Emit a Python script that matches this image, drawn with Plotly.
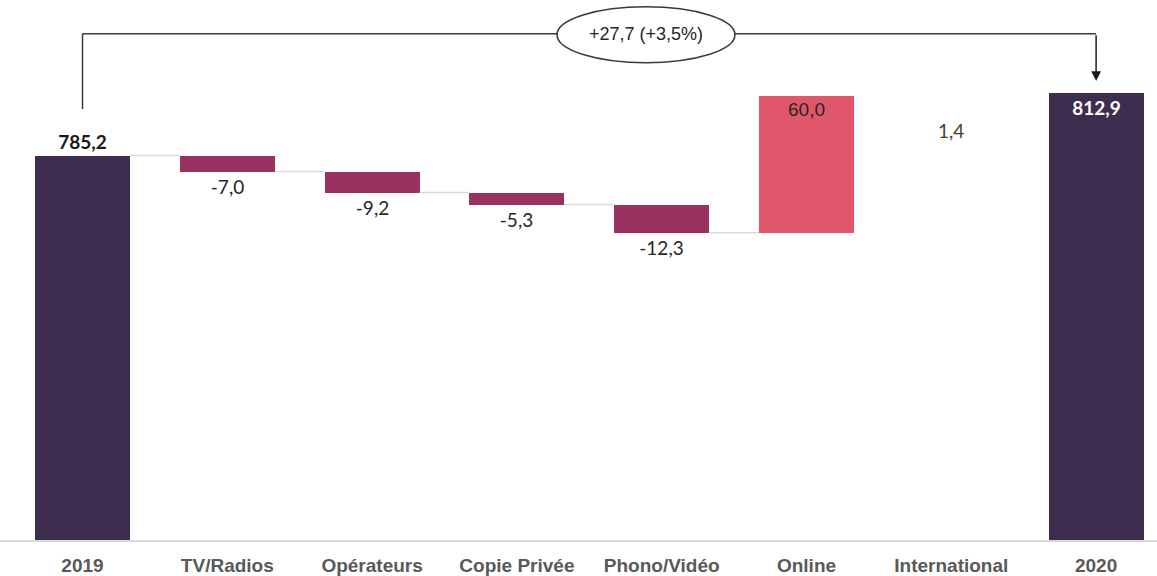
import plotly.graph_objects as go

categories = ["2019", "TV/Radios", "Opérateurs", "Copie Privée", "Phono/Vidéo",
              "Online", "International", "2020"]
start_value = 785.2
changes = [-7.0, -9.2, -5.3, -12.3, 60.0, 1.4]
end_value = 812.9
value_labels = ["785,2", "-7,0", "-9,2", "-5,3", "-12,3", "60,0", "1,4", "812,9"]
bracket_label = "+27,7 (+3,5%)"

TOTAL = "#3e2d4f"
DOWN = "#983261"
UP = "#e0566b"

# bases / heights for a floating-bar waterfall
bases = [0]
heights = [start_value]
level = start_value
levels = [start_value]
for c in changes:
    bases.append(level)
    heights.append(c)
    level += c
    levels.append(level)
bases.append(0)
heights.append(end_value)

colors = [TOTAL] + [DOWN if c < 0 else UP for c in changes] + [TOTAL]
colors[6] = "rgba(0,0,0,0)"  # International: no visible bar

xs = list(range(len(categories)))
bar_w = 0.656

positions = ["outside", "outside", "outside", "outside", "outside", "inside", "none", "inside"]
txt = ["<b>%s</b>" % value_labels[0]] + value_labels[1:6] + [""] + ["<b>%s</b>" % value_labels[7]]
txt_colors = ["#1a1a1a", "#262626", "#262626", "#262626", "#262626", "#262626", "#404040", "#ffffff"]
txt_fams = ["Lato", "Lato", "Lato", "Lato", "Lato", "Liberation Sans", "Lato", "Lato"]

fig = go.Figure()

# connectors between consecutive bars up to Online
for i in range(5):
    fig.add_trace(go.Scatter(
        x=[xs[i] + bar_w / 2, xs[i + 1] - bar_w / 2],
        y=[levels[i], levels[i]],
        mode="lines",
        line=dict(color="#d9d9d9", width=1.5),
        hoverinfo="skip",
        showlegend=False,
    ))

fig.add_trace(go.Bar(
    x=xs,
    y=heights,
    base=bases,
    width=bar_w,
    marker=dict(color=colors, line=dict(width=0)),
    text=txt,
    textposition=positions,
    insidetextanchor="end",
    textfont=dict(color=txt_colors, family=txt_fams, size=19),
    cliponaxis=False,
    showlegend=False,
))

# International label sits below the running total
fig.add_annotation(x=6, y=levels[-1], text=value_labels[6], showarrow=False,
                   yanchor="top", yshift=-24,
                   font=dict(family="Lato", size=19, color="#404040"))

# bracket from 2019 to 2020
bracket_y = 838.7
fig.add_shape(type="line", x0=0, x1=0, y0=start_value + 20.4, y1=bracket_y,
              line=dict(color="#3a3a3a", width=1.5))
fig.add_shape(type="line", x0=0, x1=3.277, y0=bracket_y, y1=bracket_y,
              line=dict(color="#3a3a3a", width=1.5))
fig.add_shape(type="line", x0=4.506, x1=7, y0=bracket_y, y1=bracket_y,
              line=dict(color="#3a3a3a", width=1.5))
fig.add_shape(type="circle", x0=3.277, x1=4.506, y0=826.0, y1=850.5,
              line=dict(color="#3a3a3a", width=1.5), fillcolor="white")
fig.add_annotation(x=3.89, y=bracket_y, text=bracket_label, showarrow=False,
                   font=dict(family="Liberation Sans", size=18, color="#262626"))
fig.add_annotation(x=7, y=end_value + 5, ax=7, ay=bracket_y, axref="x", ayref="y",
                   text="", showarrow=True, arrowhead=2, arrowsize=1.3,
                   arrowwidth=1.5, arrowcolor="#1a1a1a")

fig.update_layout(
    width=1157, height=576,
    margin=dict(l=0, r=0, t=0, b=31),
    paper_bgcolor="white", plot_bgcolor="white",
    bargap=0,
)
fig.update_xaxes(
    range=[-0.5698, 7.4206],
    tickvals=xs, ticktext=["<b>%s</b>" % c for c in categories],
    tickfont=dict(family="Liberation Sans Narrow, Liberation Sans", size=19, color="#595959"),
    showline=True, linecolor="#d9d9d9", linewidth=2,
    showgrid=False, zeroline=False, ticks="", ticklabelstandoff=7,
)
fig.update_yaxes(range=[616.5, 853.5], visible=False, showgrid=False)

fig.write_html("out.html", config={"displayModeBar": False},
               post_script="document.body.style.margin='0';")
